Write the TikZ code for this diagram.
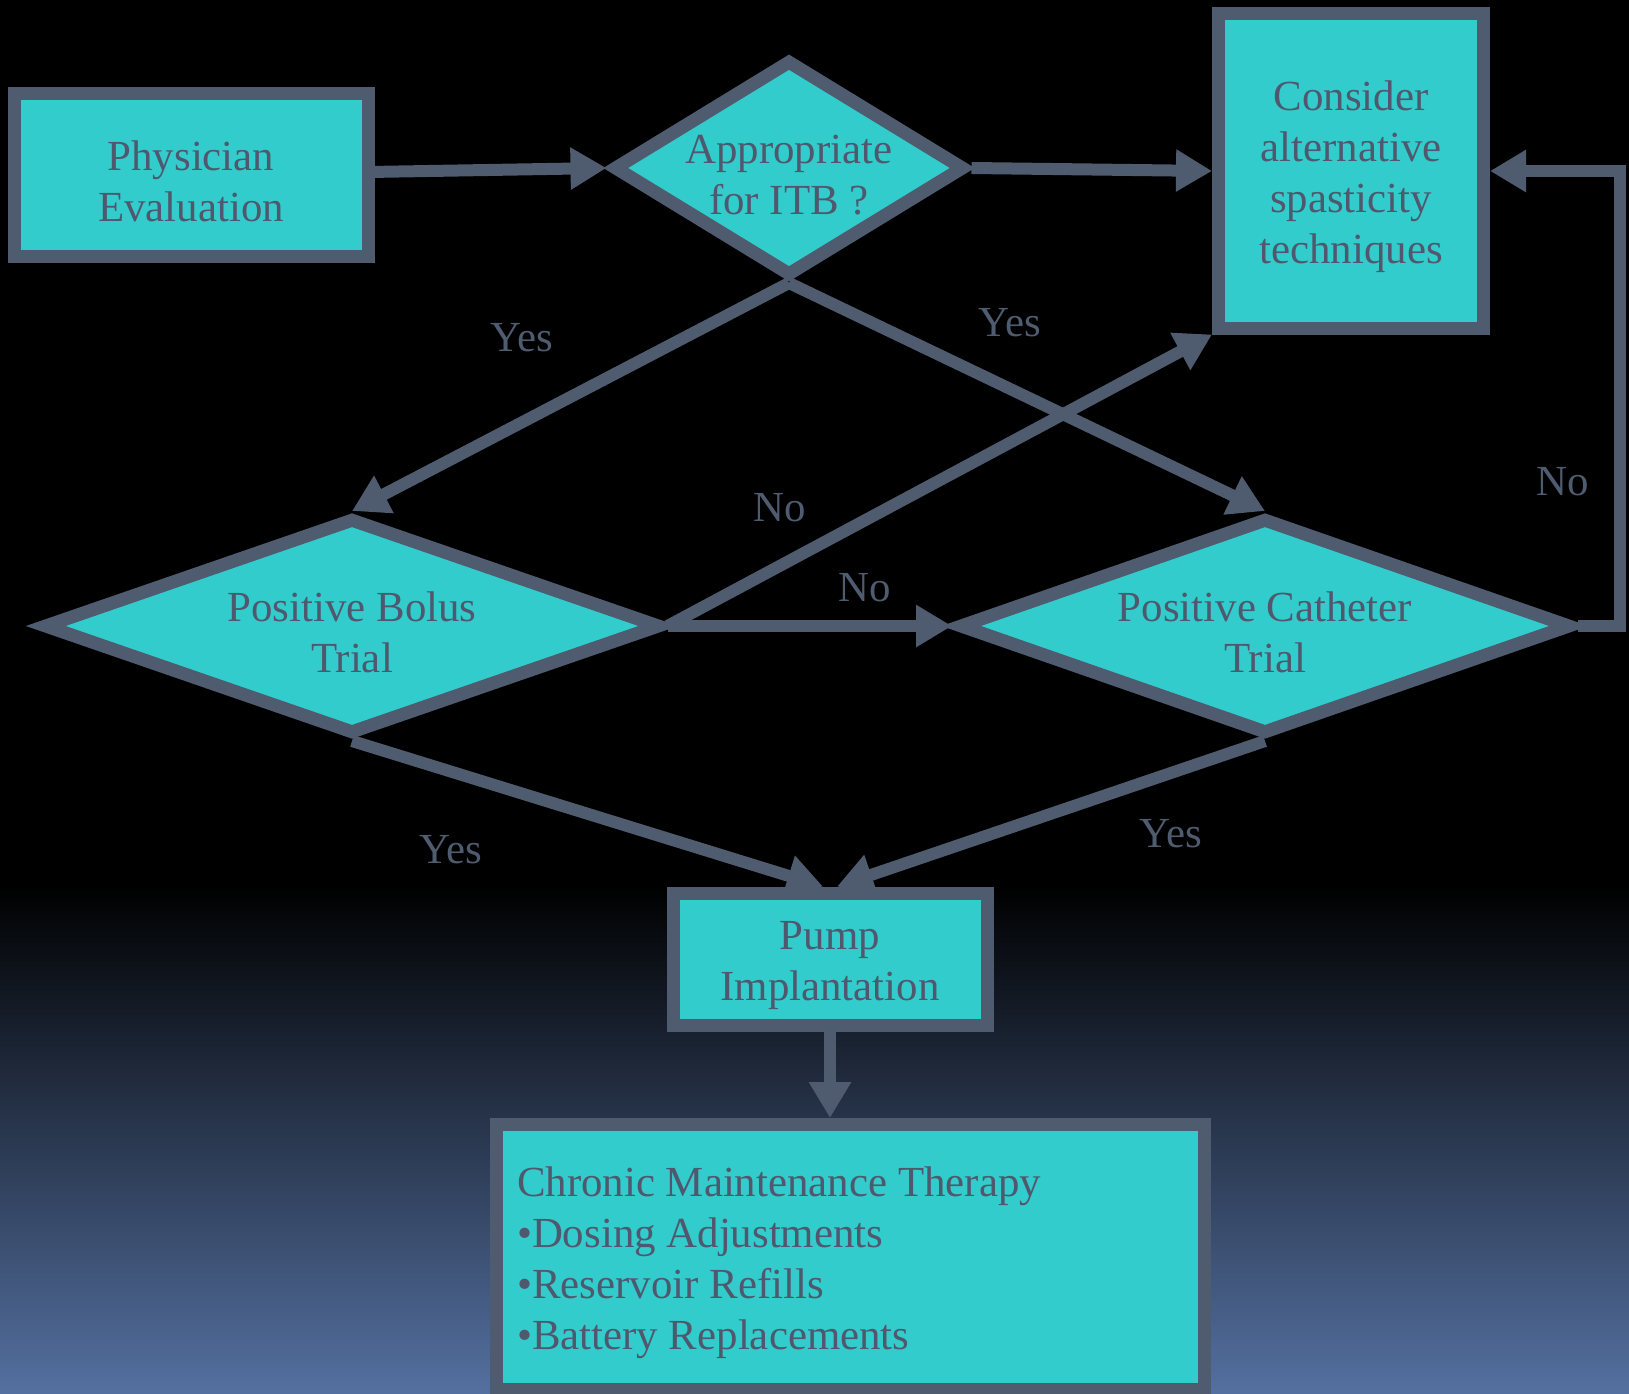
\documentclass[tikz,border=0pt]{standalone}
\usepackage{xcolor}
\usepackage{tikz}
\usepackage{fontspec}
\setmainfont{Liberation Serif}
\usetikzlibrary{positioning, arrows.meta, shapes.geometric}
\definecolor{itbline}{RGB}{79, 91, 110}
\definecolor{itbfill}{RGB}{51, 204, 204}
\definecolor{itbtext}{RGB}{80, 88, 110}
\definecolor{itbsky}{RGB}{84, 112, 160}
\newcommand{\itbgap}{\rule{0pt}{0.42cm}}

\begin{document}
\begin{tikzpicture}[
  box/.style={rectangle, draw=itbline, fill=itbfill, line width=0.13cm,
              text=itbtext, align=center, font=\fontsize{12.2pt}{14.5pt}\selectfont},
  dec/.style={diamond, draw=itbline, fill=itbfill, line width=0.13cm,
              inner xsep=-1cm, inner ysep=0pt,
              text=itbtext, align=center, font=\fontsize{12.2pt}{14.5pt}\selectfont},
  lbl/.style={text=itbline, font=\fontsize{12.2pt}{14.5pt}\selectfont},
  arr/.style={-{Triangle[length=0.36cm, width=0.40cm]}, line width=0.12cm, draw=itbline}
]
  % Background — black sky fading to blue at the bottom
  \useasboundingbox (0, 0) rectangle (16.29, 13.93);
  \fill[black] (0, 5.08) rectangle (16.29, 13.93);
  \shade[top color=black, bottom color=itbsky] (0, 0) rectangle (16.29, 5.08);

  % Row 1 — evaluation, first decision, alternatives
  \node[box, minimum width=3.54cm, minimum height=1.62cm] (phys) at (1.91, 12.18) {\itbgap Physician\\Evaluation};
  \node[dec, minimum width=3.52cm, minimum height=2.17cm] (itb)  at (7.89, 12.25) {\itbgap Appropriate\\for ITB ?};
  \node[box, minimum width=2.65cm, minimum height=3.14cm] (alt)  at (13.51, 12.22) {\itbgap Consider\\alternative\\spasticity\\techniques};

  % Row 2 — trials
  \node[dec, minimum width=6.18cm, minimum height=2.17cm] (bolus) at (3.52, 7.67)  {\itbgap Positive Bolus\\Trial};
  \node[dec, minimum width=6.13cm, minimum height=2.17cm] (cath)  at (12.65, 7.67) {\itbgap Positive Catheter\\Trial};

  % Row 3 — implantation
  \node[box, minimum width=3.14cm, minimum height=1.32cm] (pump) at (8.30, 4.34) {\itbgap Pump\\Implantation};

  % Row 4 — maintenance
  \node[box, align=flush left, text width=6.66cm, inner xsep=0.21cm, minimum height=2.65cm]
                                                          (maint) at (8.50, 1.36)
        {\itbgap Chronic Maintenance Therapy\\\textbullet Dosing Adjustments\\\textbullet Reservoir Refills\\\textbullet Battery Replacements};

  % Labels
  \node[lbl] (yesbolus)    at (5.22, 10.55)  {Yes};
  \node[lbl] (yescath)     at (10.10, 10.70) {Yes};
  \node[lbl] (nobolusalt)  at (7.80, 8.85)   {No};
  \node[lbl] (noboluscath) at (8.65, 8.05)   {No};
  \node[lbl] (nocathalt)   at (15.63, 9.11)  {No};
  \node[lbl] (yesboluspump) at (4.51, 5.43)  {Yes};
  \node[lbl] (yescathpump) at (11.71, 5.59)  {Yes};

  % Arrows
  \draw[arr] (phys)       -- (itb.west);
  \draw[arr] (itb.east)   -- (alt.west);
  \draw[arr] (itb.south)  -- (bolus.north);
  \draw[arr] (itb.south)  -- (cath.north);
  \draw[arr] (bolus.east) -- (alt.south west);
  \draw[arr] (bolus.east) -- (cath.west);
  \draw[arr] (cath.east)  -- ++(0.42, 0) |- (alt.east);
  \draw[arr] (bolus.south) -- ([xshift=-0.07cm]pump.north);
  \draw[arr] (cath.south)  -- ([xshift=0.07cm]pump.north);
  \draw[arr] (pump)       -- (pump |- maint.north);
\end{tikzpicture}
\end{document}
